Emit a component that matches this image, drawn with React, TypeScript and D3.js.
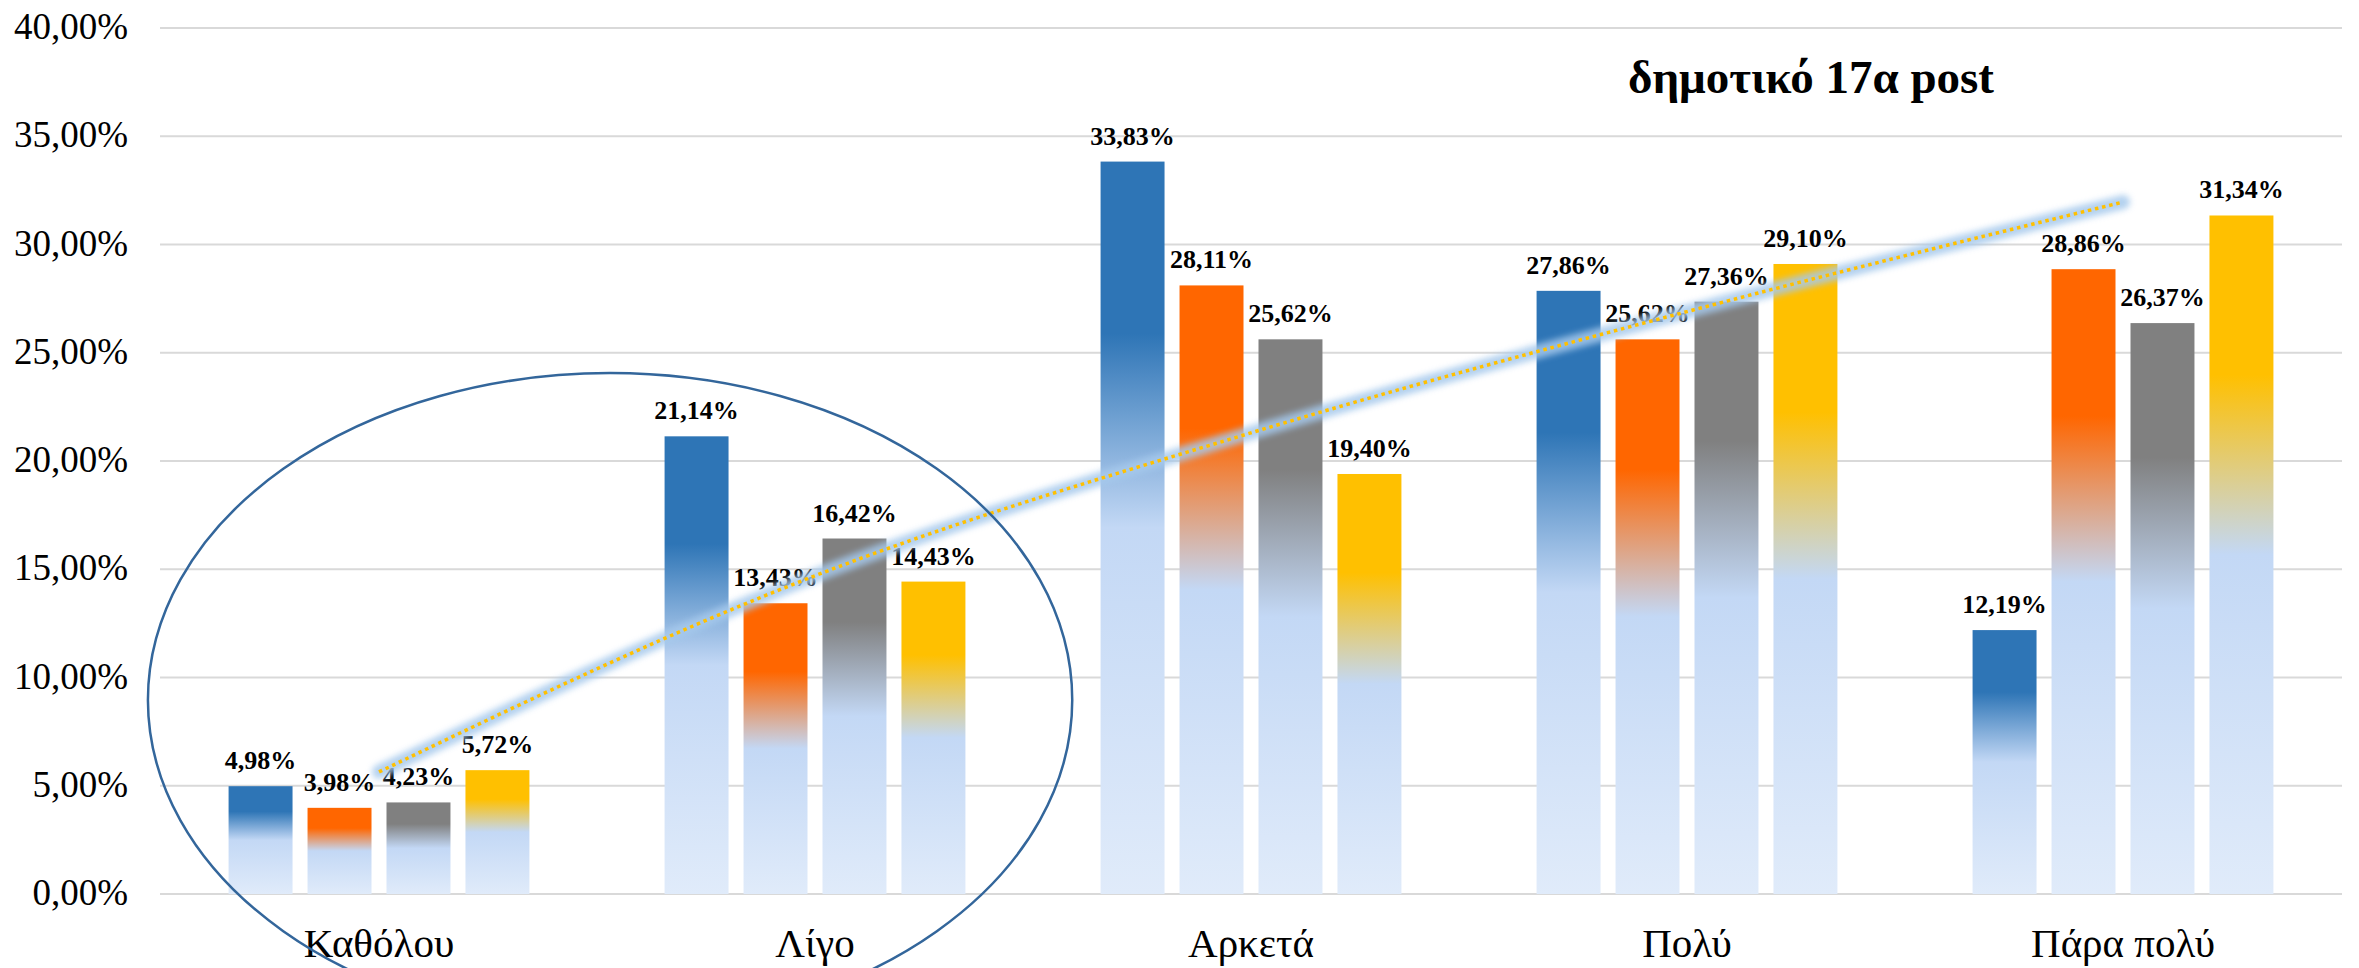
import React from "react";
import * as d3 from "d3";

const categories = ["Καθόλου", "Λίγο", "Αρκετά", "Πολύ", "Πάρα πολύ"];
const seriesKeys = ["s1", "s2", "s3", "s4"];
const seriesColors = ["#2E75B6", "#FF6600", "#808080", "#FFC000"];
const series1 = [4.98, 21.14, 33.83, 27.86, 12.19];
const series2 = [3.98, 13.43, 28.11, 25.62, 28.86];
const series3 = [4.23, 16.42, 25.62, 27.36, 26.37];
const series4 = [5.72, 14.43, 19.4, 29.1, 31.34];
const yTicks = [0, 5, 10, 15, 20, 25, 30, 35, 40];
const title = "δημοτικό 17α post";

// hand-drawn annotation curve (dotted, glowing), value read at each category centre
const trendValues = [5.64, 14.7, 21.3, 26.9, 31.96];

// annotation ellipse in data units (category index / percent)
const ellipseCenter = [0.53, 8.96];
const ellipseRadius = [1.06, 15.1];

const W = 2359;
const H = 968;
const font = "'Liberation Serif', 'Times New Roman', serif";
const fmt = (v: number) => v.toFixed(2).replace(".", ",") + "%";

const App = () => {
  const allSeries = [series1, series2, series3, series4];

  const x0 = d3.scaleBand<string>()
    .domain(categories)
    .range([161, 2341])
    .paddingInner(0.31)
    .paddingOuter(0.155);

  const x1 = d3.scaleBand<string>()
    .domain(seriesKeys)
    .range([0, x0.bandwidth()])
    .paddingInner(0.19);

  const y = d3.scaleLinear().domain([0, 40]).range([894, 28]);

  const catCenter = (c: string) => (x0(c) as number) + x0.bandwidth() / 2;
  const xi = d3.scaleLinear()
    .domain([0, categories.length - 1])
    .range([catCenter(categories[0]), catCenter(categories[categories.length - 1])]);

  const trendLine = d3.line<number>()
    .x((_, i) => catCenter(categories[i]))
    .y(d => y(d))
    .curve(d3.curveMonotoneX);
  const trendPath = trendLine(trendValues) as string;

  return (
    <svg width={W} height={H} style={{ position: "absolute", left: 0, top: 0, display: "block", background: "#fff" }}>
      <defs>
        {seriesKeys.map((k, i) => (
          <linearGradient key={k} id={`grad-${k}`} x1="0" y1="0" x2="0" y2="1">
            <stop offset="0" stopColor={seriesColors[i]} />
            <stop offset="0.235" stopColor={seriesColors[i]} />
            <stop offset="0.5" stopColor="#C3D8F5" />
            <stop offset="1" stopColor="#E0EBFA" />
          </linearGradient>
        ))}
        <filter id="glow" x="-5%" y="-50%" width="110%" height="200%">
          <feGaussianBlur stdDeviation="3" />
        </filter>
      </defs>

      {/* gridlines */}
      {yTicks.map(t => (
        <line key={t} x1={160} x2={2342} y1={y(t)} y2={y(t)} stroke="#D9D9D9" strokeWidth={2} />
      ))}

      {/* y tick labels */}
      {yTicks.map(t => (
        <text key={t} x={128} y={y(t) + 11} textAnchor="end" fontFamily={font} fontSize={37} fill="#000">
          {fmt(t)}
        </text>
      ))}

      {/* bars */}
      {categories.map((c, ci) => (
        <g key={c} transform={`translate(${x0(c)},0)`}>
          {seriesKeys.map((k, si) => {
            const v = allSeries[si][ci];
            return (
              <rect key={k} x={x1(k)} y={y(v)} width={x1.bandwidth()} height={y(0) - y(v)} fill={`url(#grad-${k})`} />
            );
          })}
        </g>
      ))}

      {/* value labels */}
      {categories.map((c, ci) => (
        <g key={c} transform={`translate(${x0(c)},0)`}>
          {seriesKeys.map((k, si) => {
            const v = allSeries[si][ci];
            return (
              <text key={k} x={(x1(k) as number) + x1.bandwidth() / 2} y={y(v) - 17} textAnchor="middle"
                fontFamily={font} fontWeight="bold" fontSize={26} fill="#000">
                {fmt(v)}
              </text>
            );
          })}
        </g>
      ))}

      {/* category labels */}
      {categories.map(c => (
        <text key={c} x={catCenter(c)} y={957} textAnchor="middle" fontFamily={font} fontSize={41} fill="#000">
          {c}
        </text>
      ))}

      {/* title */}
      <text x={1811} y={93} textAnchor="middle" fontFamily={font} fontWeight="bold" fontSize={47} fill="#000">
        {title}
      </text>

      {/* glowing dotted curve */}
      <path d={trendPath} stroke="#A6C9EC" strokeWidth={14} strokeLinecap="round" fill="none" filter="url(#glow)" opacity={0.85} />
      <path d={trendPath} stroke="#FFC000" strokeWidth={3.5} strokeDasharray="3.5 3.8" fill="none" />

      {/* annotation ellipse */}
      <ellipse
        cx={xi(ellipseCenter[0])}
        cy={y(ellipseCenter[1])}
        rx={xi(ellipseRadius[0]) - xi(0)}
        ry={y(0) - y(ellipseRadius[1])}
        fill="none"
        stroke="#33669B"
        strokeWidth={2.5}
      />
    </svg>
  );
};

export default App;
